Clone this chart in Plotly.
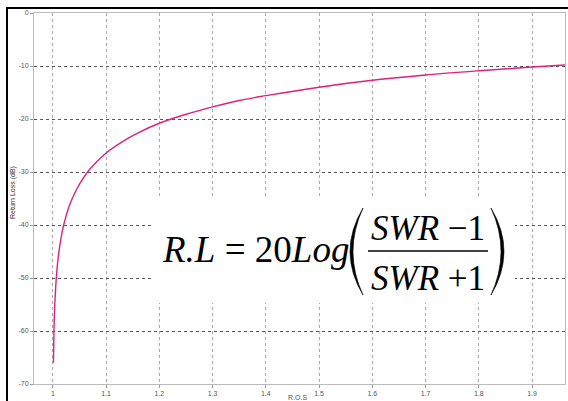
import plotly.graph_objects as go

# ---- data ----
swr = [1.001, 1.002, 1.003, 1.005, 1.0075, 1.01, 1.015, 1.02, 1.03, 1.04, 1.05,
       1.07, 1.1, 1.13, 1.16, 1.2, 1.25, 1.3, 1.35, 1.4, 1.5, 1.6, 1.7, 1.8, 1.9, 1.962]
return_loss = [-66.0, -60.0, -56.5, -52.1, -48.6, -46.1, -42.6, -40.1, -36.6, -34.2, -32.3,
               -29.4, -26.4, -24.3, -22.6, -20.8, -19.1, -17.7, -16.5, -15.6, -14.0, -12.7,
               -11.7, -10.9, -10.2, -9.8]
x_ticks = [1.0, 1.1, 1.2, 1.3, 1.4, 1.5, 1.6, 1.7, 1.8, 1.9]
x_tick_labels = ["1", "1.1", "1.2", "1.3", "1.4", "1.5", "1.6", "1.7", "1.8", "1.9"]
y_ticks = [0, -10, -20, -30, -40, -50, -60, -70]
y_tick_labels = ["0", "-10", "-20", "-30", "-40", "-50", "-60", "-70"]

W, H = 568, 401
L, R, T, B = 34, 565, 13, 384  # plot area in pixels


def px(x):
    return (x - L) / (R - L)


def py(y):
    return (B - y) / (B - T)


fig = go.Figure()
fig.add_trace(go.Scatter(x=swr, y=return_loss, mode="lines",
                         line=dict(color="#e0207f", width=1.4, shape="spline"),
                         hoverinfo="skip", showlegend=False))

tickfont = dict(family="Liberation Sans, Arial", size=7, color="#555")
fig.update_xaxes(range=[0.9645, 1.962], tickvals=x_ticks, ticktext=x_tick_labels,
                 showgrid=True, gridcolor="#aaa", griddash="dot", gridwidth=1,
                 showline=True, mirror=True, linecolor="#bbb", linewidth=1,
                 ticks="outside", ticklen=3, tickcolor="#999", tickfont=tickfont,
                 zeroline=False)
fig.update_yaxes(range=[-70, 0], tickvals=y_ticks, ticktext=y_tick_labels,
                 showgrid=True, gridcolor="#555", griddash="dot", gridwidth=1,
                 showline=True, mirror=True, linecolor="#bbb", linewidth=1,
                 ticks="outside", ticklen=3, tickcolor="#999", tickfont=tickfont,
                 zeroline=False)

shapes = []
# white box hiding the grid behind the formula
shapes.append(dict(type="rect", xref="paper", yref="paper", layer="above",
                   x0=px(153), x1=px(515), y0=py(303), y1=py(197),
                   fillcolor="white", line=dict(width=0)))
# outer black frame (top and left)
shapes.append(dict(type="path", xref="paper", yref="paper", layer="above",
                   path=f"M {px(7)} {py(401)} L {px(7)} {py(8)} L {px(568)} {py(8)}",
                   line=dict(color="black", width=2)))
# fraction bar
shapes.append(dict(type="line", xref="paper", yref="paper", layer="above",
                   x0=px(368), x1=px(488), y0=py(251), y1=py(251),
                   line=dict(color="black", width=1.5)))


def paren(xe, xo, xi, yt, yb):
    ym = (yt + yb) / 2
    return (f"M {px(xe)} {py(yt)} Q {px(xo)} {py(ym)} {px(xe)} {py(yb)} "
            f"Q {px(xi)} {py(ym)} {px(xe)} {py(yt)} Z")


shapes.append(dict(type="path", xref="paper", yref="paper", layer="above",
                   path=paren(363, 337, 343, 208, 295),
                   fillcolor="black", line=dict(color="black", width=0.6)))
shapes.append(dict(type="path", xref="paper", yref="paper", layer="above",
                   path=paren(491, 517, 511, 208, 295),
                   fillcolor="black", line=dict(color="black", width=0.6)))

serif = "Liberation Serif, Times New Roman, serif"
annotations = [
    dict(text="<i>R.L</i> = 20<i>Log</i>", xref="paper", yref="paper",
         x=px(160), y=py(250), xanchor="left", yanchor="middle", showarrow=False,
         font=dict(family=serif, size=37, color="black")),
    dict(text="<i>SWR</i> \u22121", xref="paper", yref="paper",
         x=px(428), y=py(229), xanchor="center", yanchor="middle", showarrow=False,
         font=dict(family=serif, size=35, color="black")),
    dict(text="<i>SWR</i> +1", xref="paper", yref="paper",
         x=px(428), y=py(278), xanchor="center", yanchor="middle", showarrow=False,
         font=dict(family=serif, size=35, color="black")),
    dict(text="Return Loss (dB)", xref="paper", yref="paper", textangle=-90,
         x=px(13), y=py(193), xanchor="center", yanchor="middle", showarrow=False,
         font=dict(family="Liberation Sans, Arial", size=7, color="#333")),
    dict(text="R.O.S", xref="paper", yref="paper",
         x=px(297), y=py(397), xanchor="center", yanchor="middle", showarrow=False,
         font=dict(family="Liberation Sans, Arial", size=7, color="#555")),
]

fig.update_layout(width=W, height=H, margin=dict(l=L, r=W - R, t=T, b=H - B),
                  paper_bgcolor="white", plot_bgcolor="white",
                  shapes=shapes, annotations=annotations, showlegend=False)

fig.write_html("out.html")
